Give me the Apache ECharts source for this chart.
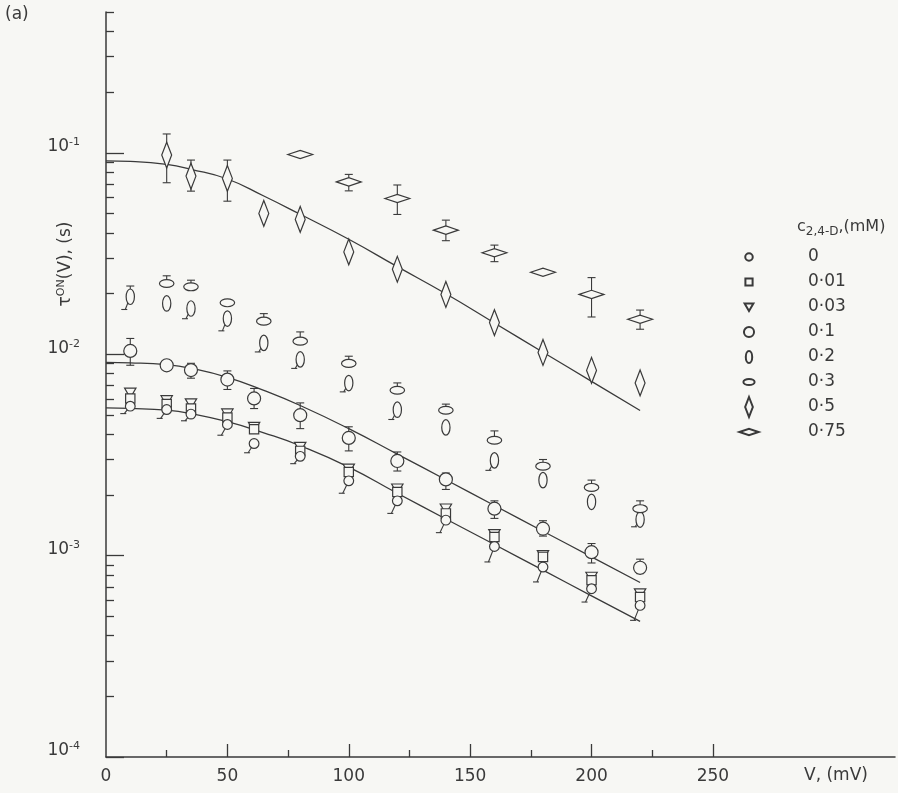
<!DOCTYPE html>
<html>
<head>
<meta charset="utf-8">
<title>tau ON (V)</title>
<script src="https://cdn.jsdelivr.net/npm/echarts@6/dist/echarts.min.js"></script>
<style>
html,body{margin:0;padding:0;background:#f7f7f4;}
#chart{width:898px;height:793px;}
</style>
</head>
<body>
<div id="chart"></div>
<script>
var INK = '#3a3a3a';
var PAPER = '#f7f7f4';
var FONT = '"DejaVu Sans", "Liberation Sans", sans-serif';

// voltages (mV) of each set
var vA = [10, 25, 35, 50, 61, 80, 100, 120, 140, 160, 180, 200, 220];
var vB = [10, 25, 35, 50, 65, 80, 100, 120, 140, 160, 180, 200, 220];
var vC = [25, 35, 50, 65, 80, 100, 120, 140, 160, 180, 200, 220];
var vD = [80, 100, 120, 140, 160, 180, 200, 220];
var vFit = [0, 10, 25, 35, 50, 65, 80, 100, 120, 140, 160, 180, 200, 220];

// tau ON (s), c = 0 mM
var tau0 = [0.00552, 0.00531, 0.00504, 0.00448, 0.0036, 0.00311, 0.00235, 0.00187, 0.0015, 0.00111, 0.000877, 0.000685, 0.000566];
var tau0Lo = [0.00507, 0.0048, 0.00467, 0.00396, 0.00324, 0.00286, 0.00204, 0.00162, 0.0013, 0.00093, 0.00074, 0.000588, 0.000477];
// c = 0.01 mM
var tau001 = [0.00602, 0.00565, 0.00537, 0.00485, 0.00424, 0.00331, 0.0026, 0.00207, 0.00162, 0.001237, 0.000985, 0.000754, 0.000622];
// c = 0.03 mM
var tau003 = [0.00643, 0.0059, 0.00569, 0.00507, 0.00435, 0.00346, 0.0027, 0.00215, 0.00171, 0.001276, 0.001004, 0.000784, 0.000648];
// c = 0.1 mM
var tau01 = [0.01038, 0.00881, 0.00834, 0.00748, 0.00603, 0.00498, 0.00384, 0.00295, 0.00239, 0.00171, 0.00136, 0.00104, 0.00087];
var tau01Hi = [0.01197, null, 0.00901, 0.00826, 0.00676, 0.00573, 0.00436, 0.00327, 0.00257, 0.00187, 0.00149, 0.001148, 0.00096];
var tau01Lo = [0.00881, null, 0.0076, 0.00668, 0.00537, 0.00427, 0.00331, 0.00263, 0.00213, 0.00153, 0.00125, 0.000919, 0.000814];
// c = 0.2 mM
var tau02 = [0.01928, 0.01786, 0.01686, 0.01503, 0.01138, 0.00942, 0.00719, 0.0053, 0.00433, 0.00297, 0.00237, 0.00185, 0.00151];
var tau02Hi = [0.0218, null, null, null, null, null, null, null, null, null, null, null, null];
var tau02Lo = [0.01667, null, 0.015, 0.01306, 0.01026, 0.0085, 0.0065, 0.00474, null, 0.00265, null, null, 0.00139];
// c = 0.3 mM
var tau03 = [0.02244, 0.0216, 0.01799, 0.01459, 0.01161, 0.009, 0.00662, 0.00527, 0.00374, 0.00278, 0.00218, 0.00171];
var tau03Hi = [0.0245, 0.0233, null, 0.0159, 0.0129, 0.00977, 0.0072, 0.00565, 0.00416, 0.003, 0.00237, 0.00187];
// c = 0.5 mM
var tau05 = [0.0974, 0.0766, 0.0746, 0.05, 0.0467, 0.0322, 0.0264, 0.0198, 0.01435, 0.0102, 0.00831, 0.0072];
var tau05Hi = [0.124, 0.092, 0.092, null, null, null, null, null, null, null, null, null];
var tau05Lo = [0.071, 0.0645, 0.0575, null, null, null, null, null, null, null, null, null];
// c = 0.75 mM
var tau075 = [0.098, 0.0717, 0.0593, 0.0413, 0.0319, 0.0255, 0.0198, 0.0149];
var tau075Hi = [null, 0.0781, 0.0692, 0.0463, 0.0348, null, 0.024, 0.01656];
var tau075Lo = [null, 0.0647, 0.0494, 0.0366, 0.0288, null, 0.0153, 0.0133];

// fitted curves
var fitHigh = [0.0912, 0.0906, 0.0875, 0.0828, 0.0741, 0.061, 0.0495, 0.0372, 0.0272, 0.01995, 0.01429, 0.01023, 0.00733, 0.00525];
var fitMid = [0.0091, 0.00906, 0.00887, 0.00851, 0.00767, 0.00661, 0.00556, 0.00427, 0.00319, 0.00238, 0.001774, 0.001321, 0.000986, 0.000735];
var fitLow = [0.00541, 0.00538, 0.00527, 0.00507, 0.00462, 0.00407, 0.00351, 0.00275, 0.00204, 0.00152, 0.001135, 0.000847, 0.000631, 0.000471];

var names = ['0', '0·01', '0·03', '0·1', '0·2', '0·3', '0·5', '0·75'];
var xLabels = [0, 50, 100, 150, 200, 250];
var xMajor = [50, 100, 150, 200, 250];
var xMinor = [25, 75, 125, 175, 225];
var yDecades = [-4, -3, -2, -1];

// marker outlines, all drawn inside the same 30x30 box
var BOX = 'M0 0M30 30';
var SYM = {
	c0: 'path://' + BOX + 'M10.3 15A4.7 4.7 0 1 1 19.7 15A4.7 4.7 0 1 1 10.3 15Z',
	sq: 'path://' + BOX + 'M10.5 10.5H19.5V19.5H10.5Z',
	tri: 'path://' + BOX + 'M9.5 10.5H20.5L15 20Z',
	c1: 'path://' + BOX + 'M8.7 15A6.3 6.3 0 1 1 21.3 15A6.3 6.3 0 1 1 8.7 15Z',
	tall: 'path://' + BOX + 'M11 15A4 7.5 0 1 1 19 15A4 7.5 0 1 1 11 15Z',
	wide: 'path://' + BOX + 'M8 15A7 3.8 0 1 1 22 15A7 3.8 0 1 1 8 15Z',
	dTall: 'path://' + BOX + 'M15 2.5L19.8 15L15 27.5L10.2 15Z',
	dWide: 'path://' + BOX + 'M3 15L15 11L27 15L15 19Z'
};
var icons = [SYM.c0, SYM.sq, SYM.tri, SYM.c1, SYM.tall, SYM.wide, SYM.dTall, SYM.dWide];

function pts(xs, ys) {
	return xs.map(function (x, i) { return [x, ys[i]]; });
}

function bars(xs, ys, lo, hi, slant) {
	var out = [];
	xs.forEach(function (x, i) {
		var l = lo ? lo[i] : null, h = hi ? hi[i] : null;
		if (l == null && h == null) return;
		out.push([x, ys[i], l == null ? '-' : l, h == null ? '-' : h, slant || 0]);
	});
	return out;
}

function renderBar(params, api) {
	var x = api.value(0), lo = api.value(2), hi = api.value(3), sl = api.value(4);
	var c = api.coord([x, api.value(1)]);
	var st = { stroke: INK, lineWidth: 1.1, fill: null };
	var kids = [];
	if (!isNaN(hi)) {
		var t = api.coord([x, hi]);
		kids.push({ type: 'line', shape: { x1: c[0], y1: c[1], x2: c[0], y2: t[1] }, style: st });
		kids.push({ type: 'line', shape: { x1: c[0] - 4, y1: t[1], x2: c[0] + 4, y2: t[1] }, style: st });
	}
	if (!isNaN(lo)) {
		var b = api.coord([x, lo]);
		var bx = c[0] - sl;
		kids.push({ type: 'line', shape: { x1: c[0], y1: c[1], x2: bx, y2: b[1] }, style: st });
		kids.push({ type: 'line', shape: { x1: bx - 4, y1: b[1], x2: bx + (sl ? 2 : 4), y2: b[1] }, style: st });
	}
	return { type: 'group', children: kids };
}

function scatter(name, xs, ys, symbol, z) {
	return {
		name: name,
		type: 'scatter',
		data: pts(xs, ys),
		symbol: symbol,
		symbolSize: 31,
		z: z,
		silent: true,
		itemStyle: { color: PAPER, borderColor: INK, borderWidth: 1.2, opacity: 1 }
	};
}

function errSeries(data) {
	return { type: 'custom', renderItem: renderBar, data: data, z: 3, silent: true };
}

function fit(ys) {
	return {
		type: 'line',
		data: pts(vFit, ys),
		smooth: true,
		showSymbol: false,
		symbol: 'none',
		z: 2,
		silent: true,
		lineStyle: { color: INK, width: 1.3 }
	};
}

var minorLog = [];
for (var n = -4; n <= -1; n++) {
	for (var k = 2; k <= 9; k++) {
		var v = Math.log10(k * Math.pow(10, n));
		if (v <= Math.log10(0.5) + 1e-9) minorLog.push(v);
	}
}

var chart = echarts.init(document.getElementById('chart'));
var option = {
	backgroundColor: PAPER,
	animation: false,
	textStyle: { fontFamily: FONT, color: INK },
	grid: { left: 106, right: 3, top: 12, bottom: 36 },
	xAxis: [
		{
			type: 'value', min: 0, max: 325,
			axisLine: { lineStyle: { color: INK, width: 1.5 } },
			axisTick: { inside: true, length: 13, customValues: xMajor, lineStyle: { color: INK, width: 1.3 } },
			axisLabel: { customValues: xLabels, margin: 11, fontSize: 17, color: INK, fontFamily: FONT },
			splitLine: { show: false }
		},
		{
			type: 'value', min: 0, max: 325, position: 'bottom', offset: 0,
			axisLine: { show: false },
			axisTick: { inside: true, length: 7, customValues: xMinor, lineStyle: { color: INK, width: 1.3 } },
			axisLabel: { show: false },
			splitLine: { show: false }
		}
	],
	yAxis: [
		{
			type: 'log', logBase: 10, min: 0.0001, max: 0.5, position: 'left',
			axisLine: { show: true, lineStyle: { color: INK, width: 1.5 } },
			axisTick: { show: false },
			axisLabel: { show: false },
			splitLine: { show: false }
		},
		{
			type: 'value', min: -4, max: Math.log10(0.5), position: 'left', offset: 0,
			axisLine: { show: false },
			axisTick: { inside: true, length: 18, customValues: yDecades, lineStyle: { color: INK, width: 1.3 } },
			axisLabel: {
				customValues: yDecades,
				margin: 26,
				padding: [0, 0, 12, 0],
				formatter: function (val) {
					return '{m|10}{e|' + Math.round(val) + '}';
				},
				rich: {
					m: { fontSize: 17, color: INK, fontFamily: FONT },
					e: { fontSize: 11, color: INK, fontFamily: FONT, padding: [0, 0, 9, 0] }
				}
			},
			splitLine: { show: false }
		},
		{
			type: 'value', min: -4, max: Math.log10(0.5), position: 'left', offset: 0,
			axisLine: { show: false },
			axisTick: { inside: true, length: 8, customValues: minorLog, lineStyle: { color: INK, width: 1.3 } },
			axisLabel: { show: false },
			splitLine: { show: false }
		}
	],
	legend: {
		orient: 'vertical',
		left: 731,
		top: 239,
		itemWidth: 24,
		itemHeight: 24,
		itemGap: -1,
		selectedMode: false,
		data: names.map(function (nm, i) { return { name: nm, icon: icons[i] }; }),
		textStyle: { fontSize: 17, color: INK, fontFamily: FONT, padding: [0, 0, 0, 42] }
	},
	graphic: [
		{ type: 'text', left: 5, top: 6, style: { text: '(a)', fontSize: 17, fill: INK, fontFamily: FONT } },
		{ type: 'text', left: 804, top: 767, style: { text: 'V, (mV)', fontSize: 17, fill: INK, fontFamily: FONT } },
		{
			type: 'text', left: 797, top: 219,
			style: {
				text: '{a|c}{b|2,4-D}{a|,(mM)}',
				fill: INK,
				rich: {
					a: { fontSize: 16, fontFamily: FONT, fill: INK },
					b: { fontSize: 12, fontFamily: FONT, fill: INK, padding: [9, 0, 0, 0] }
				}
			}
		},
		{
			type: 'text', x: 66, y: 264, rotation: Math.PI / 2,
			style: {
				text: '{a|τ}{b|ON}{a|(V), (s)}',
				align: 'center',
				verticalAlign: 'middle',
				fill: INK,
				rich: {
					a: { fontSize: 17, fontFamily: FONT, fill: INK },
					b: { fontSize: 11, fontFamily: FONT, fill: INK, padding: [0, 0, 9, 0] }
				}
			}
		}
	],
	series: [
		fit(fitHigh),
		fit(fitMid),
		fit(fitLow),
		errSeries(bars(vA, tau0, tau0Lo, null, 6)),
		errSeries(bars(vA, tau01, tau01Lo, tau01Hi, 0)),
		errSeries(bars(vB, tau02, tau02Lo, tau02Hi, 5)),
		errSeries(bars(vC, tau03, null, tau03Hi, 0)),
		errSeries(bars(vC, tau05, tau05Lo, tau05Hi, 0)),
		errSeries(bars(vD, tau075, tau075Lo, tau075Hi, 0)),
		scatter('0', vA, tau0, SYM.c0, 6),
		scatter('0·01', vA, tau001, SYM.sq, 5),
		scatter('0·03', vA, tau003, SYM.tri, 4),
		scatter('0·1', vA, tau01, SYM.c1, 4),
		scatter('0·2', vB, tau02, SYM.tall, 4),
		scatter('0·3', vC, tau03, SYM.wide, 4),
		scatter('0·5', vC, tau05, SYM.dTall, 4),
		scatter('0·75', vD, tau075, SYM.dWide, 4)
	]
};
chart.setOption(option);
</script>
</body>
</html>
